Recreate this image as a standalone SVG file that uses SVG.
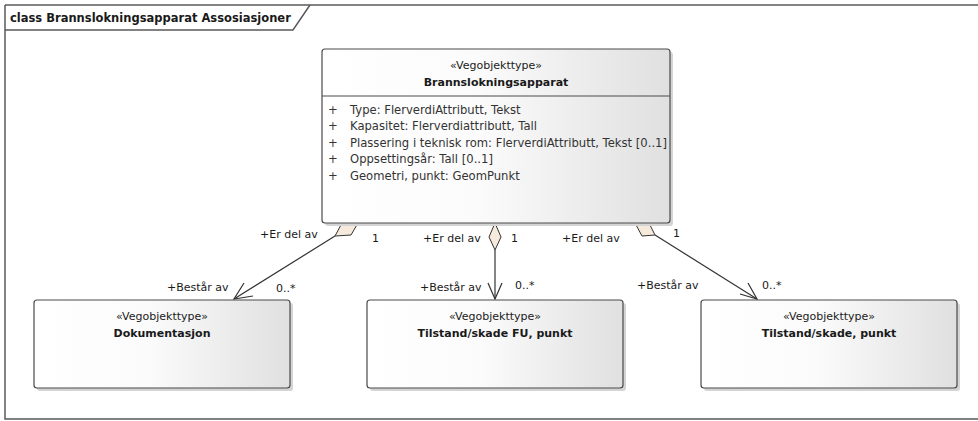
<svg xmlns="http://www.w3.org/2000/svg" width="978" height="421" viewBox="0 0 978 421">
<defs>
<linearGradient id="g" x1="0" y1="0" x2="1" y2="0">
<stop offset="0" stop-color="#ffffff"/>
<stop offset="0.45" stop-color="#fbfbfb"/>
<stop offset="1" stop-color="#e0e0e0"/>
</linearGradient>
<style>
.frame{fill:none;stroke:#5a5a5a;stroke-width:1.5}
.shadow{fill:#d4d4d4}
.box{fill:url(#g);stroke:#4a4a4a;stroke-width:1.2}
.sep{stroke:#4a4a4a;stroke-width:1}
text{font-family:"DejaVu Sans","Liberation Sans",sans-serif;font-size:11px;fill:#1a1a1a}
.b{font-weight:bold}
.c{text-anchor:middle}
.t{font-size:11.5px}
.attr{fill:#333;font-size:11.6px}
.line{fill:none;stroke:#333;stroke-width:1.2}
.dia{fill:#f6eadc;stroke:#333;stroke-width:1}
</style>
</defs>
<rect x="0" y="0" width="978" height="421" fill="#ffffff"/>
<g id="frame">
<path class="frame" d="M5 5 H978 M5 5 V419 H978"/>
<path class="frame" d="M5 30 H293 L310 5"/>
<text class="b t" x="10" y="22">class Brannslokningsapparat Assosiasjoner</text>
</g>
<g id="connectors">
<polyline class="line" points="335,236 234,299"/>
<polyline class="line" points="244,283 234,299 253,296"/>
<polygon class="dia" points="342,223 358,223 351,235 335,236"/>
<text x="260" y="238">+Er del av</text>
<text x="372" y="242">1</text>
<text x="167" y="291">+Består av</text>
<text x="276" y="292">0..*</text>
<polyline class="line" points="495,250 495,299"/>
<polyline class="line" points="488,283 495,299 502,283"/>
<polygon class="dia" points="495,223 501,237 495,250 489,237"/>
<text x="423" y="242">+Er del av</text>
<text x="511" y="242">1</text>
<text x="420" y="291">+Består av</text>
<text x="515" y="289">0..*</text>
<polyline class="line" points="655,235 757,299"/>
<polyline class="line" points="740,294 757,299 748,283"/>
<polygon class="dia" points="635,223 649,223 655,235 642,236"/>
<text x="562" y="242">+Er del av</text>
<text x="673" y="237">1</text>
<text x="637" y="289">+Består av</text>
<text x="762" y="289">0..*</text>
</g>
<g id="brannslokningsapparat">
<rect class="shadow" x="325" y="52" width="348" height="174" rx="3"/>
<rect class="box" x="322" y="49" width="348" height="174" rx="3"/>
<line class="sep" x1="322" y1="96" x2="670" y2="96"/>
<text class="c" x="496" y="69">«Vegobjekttype»</text>
<text class="c b" x="496" y="86">Brannslokningsapparat</text>
<text class="attr" x="328" y="114">+</text>
<text class="attr" x="350" y="114">Type: FlerverdiAttributt, Tekst</text>
<text class="attr" x="328" y="130">+</text>
<text class="attr" x="350" y="130">Kapasitet: Flerverdiattributt, Tall</text>
<text class="attr" x="328" y="147">+</text>
<text class="attr" x="350" y="147">Plassering i teknisk rom: FlerverdiAttributt, Tekst [0..1]</text>
<text class="attr" x="328" y="163">+</text>
<text class="attr" x="350" y="163">Oppsettingsår: Tall [0..1]</text>
<text class="attr" x="328" y="180">+</text>
<text class="attr" x="350" y="180">Geometri, punkt: GeomPunkt</text>
</g>
<g id="dokumentasjon">
<rect class="shadow" x="37" y="303" width="256" height="88" rx="3"/>
<rect class="box" x="34" y="300" width="256" height="88" rx="3"/>
<text class="c" x="162" y="320">«Vegobjekttype»</text>
<text class="c b" x="162" y="337">Dokumentasjon</text>
</g>
<g id="tilstand-fu">
<rect class="shadow" x="370" y="303" width="256" height="88" rx="3"/>
<rect class="box" x="367" y="300" width="256" height="88" rx="3"/>
<text class="c" x="495" y="320">«Vegobjekttype»</text>
<text class="c b" x="495" y="337">Tilstand/skade FU, punkt</text>
</g>
<g id="tilstand">
<rect class="shadow" x="704" y="303" width="256" height="88" rx="3"/>
<rect class="box" x="701" y="300" width="256" height="88" rx="3"/>
<text class="c" x="829" y="320">«Vegobjekttype»</text>
<text class="c b" x="829" y="337">Tilstand/skade, punkt</text>
</g>
</svg>
